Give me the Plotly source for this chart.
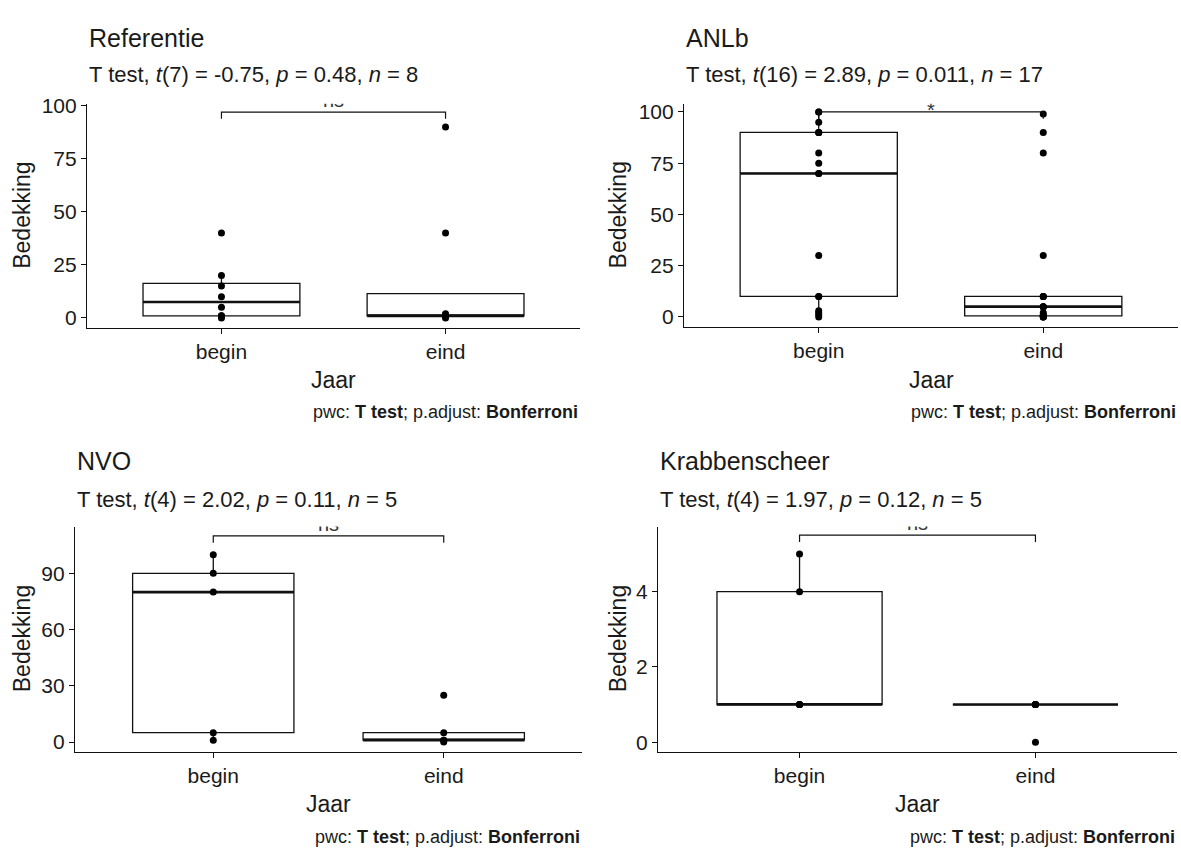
import numpy as np
import plotly.graph_objects as go

W, H = 1181, 849

# ---------------- data ----------------
categories = ["begin", "eind"]
panel_titles = ["Referentie", "ANLb", "NVO", "Krabbenscheer"]
subtitles = [
    "T test, <i>t</i>(7) = -0.75, <i>p</i> = 0.48, <i>n</i> = 8",
    "T test, <i>t</i>(16) = 2.89, <i>p</i> = 0.011, <i>n</i> = 17",
    "T test, <i>t</i>(4) = 2.02, <i>p</i> = 0.11, <i>n</i> = 5",
    "T test, <i>t</i>(4) = 1.97, <i>p</i> = 0.12, <i>n</i> = 5",
]
referentie_begin = [0, 1, 1, 5, 10, 15, 20, 40]
referentie_eind = [0, 1, 1, 1, 1, 2, 40, 90]
anlb_begin = [0, 1, 2, 3, 10, 10, 30, 70, 70, 75, 80, 90, 90, 90, 95, 100, 100]
anlb_eind = [0, 0, 0, 0.5, 0.5, 1, 2, 5, 5, 5, 10, 10, 10, 30, 80, 90, 99]
nvo_begin = [1, 5, 80, 90, 100]
nvo_eind = [0, 1, 1, 5, 25]
krabbenscheer_begin = [1, 1, 1, 4, 5]
krabbenscheer_eind = [0, 1, 1, 1, 1]
signif_labels = ["ns", "*", "ns", "ns"]
bracket_y = [97, 100, 110, 5.5]
y_tick_values = [[0, 25, 50, 75, 100], [0, 25, 50, 75, 100], [0, 30, 60, 90], [0, 2, 4]]
x_title = "Jaar"
y_title = "Bedekking"
caption = "pwc: <b>T test</b>; p.adjust: <b>Bonferroni</b>"

panel_data = [
    (referentie_begin, referentie_eind),
    (anlb_begin, anlb_eind),
    (nvo_begin, nvo_eind),
    (krabbenscheer_begin, krabbenscheer_eind),
]

# ---------------- layout (pixels) ----------------
panels_px = [
    (87, 580, 95, 322),
    (684, 1178, 95, 321.3),
    (75, 582, 523.3, 751.7),
    (658, 1177, 523.3, 751.7),
]
y_ranges = [[-4.65, 100.9], [-5.0, 104.0], [-5.3, 115.0], [-0.26, 5.73]]
x_range = [-0.6, 1.6]
title_y = [28, 28, 457, 457]
subtitle_y = [65, 65, 496, 496]
xtitle_y = [375, 375, 804, 804]
caption_y = [407, 407, 838, 838]
ytitle_x = [22, 618, 22, 618]
signif_pos = ["top center", "middle center", "top center", "top center"]

FONT = "Liberation Sans, Arial, sans-serif"
TXT = "#1a1a1a"


def px_x(x):
    return x / W


def px_y(y):
    return 1 - y / H


fig = go.Figure()
layout_axes = {}
annotations = []

for i, (vals_b, vals_e) in enumerate(panel_data):
    n = i + 1
    xa = "x" if n == 1 else f"x{n}"
    ya = "y" if n == 1 else f"y{n}"
    l, r, t, b = panels_px[i]
    for pos, vals in enumerate([vals_b, vals_e]):
        v = np.array(vals, dtype=float)
        q1, med, q3 = np.percentile(v, [25, 50, 75])
        iqr = q3 - q1
        lf = v[v >= q1 - 1.5 * iqr].min()
        uf = v[v <= q3 + 1.5 * iqr].max()
        fig.add_trace(go.Box(
            x=[pos], q1=[q1], median=[med], q3=[q3],
            lowerfence=[lf], upperfence=[uf],
            width=0.7, whiskerwidth=0, boxpoints=False,
            fillcolor="white", line=dict(color="#111111", width=1.3),
            xaxis=xa, yaxis=ya, showlegend=False, hoverinfo="skip",
        ))
        fig.add_trace(go.Scatter(
            x=[pos - 0.35, pos + 0.35], y=[med, med], mode="lines",
            line=dict(color="#111111", width=2.6),
            xaxis=xa, yaxis=ya, showlegend=False, hoverinfo="skip",
        ))
        fig.add_trace(go.Scatter(
            x=[pos] * len(vals), y=vals, mode="markers",
            marker=dict(color="black", size=7),
            xaxis=xa, yaxis=ya, showlegend=False, hoverinfo="skip",
        ))
    # significance bracket
    yr = y_ranges[i]
    tip = 0.03 * (yr[1] - yr[0])
    by = bracket_y[i]
    fig.add_trace(go.Scatter(
        x=[0, 0, 1, 1], y=[by - tip, by, by, by - tip], mode="lines",
        line=dict(color="#111111", width=1.2),
        xaxis=xa, yaxis=ya, showlegend=False, hoverinfo="skip",
    ))
    fig.add_trace(go.Scatter(
        x=[0.5], y=[by], mode="text", text=[signif_labels[i]],
        textposition=signif_pos[i], cliponaxis=True,
        textfont=dict(family=FONT, size=20, color="#333333"),
        xaxis=xa, yaxis=ya, showlegend=False, hoverinfo="skip",
    ))

    axis_common = dict(
        showline=True, linecolor="#111111", linewidth=1.2,
        ticks="outside", ticklen=5, tickcolor="#111111", tickwidth=1.2,
        showgrid=False, zeroline=False,
        tickfont=dict(family=FONT, size=21, color=TXT),
    )
    layout_axes[f"xaxis{'' if n == 1 else n}"] = dict(
        axis_common, domain=[px_x(l), px_x(r)], range=x_range,
        tickvals=[0, 1], ticktext=categories, anchor=ya,
    )
    layout_axes[f"yaxis{'' if n == 1 else n}"] = dict(
        axis_common, domain=[px_y(b), px_y(t)], range=yr,
        tickvals=y_tick_values[i], anchor=xa,
    )

    annotations += [
        dict(text=panel_titles[i], x=px_x(l), y=px_y(title_y[i]), xref="paper", yref="paper",
             xanchor="left", yanchor="middle", showarrow=False,
             font=dict(family=FONT, size=25, color=TXT)),
        dict(text=subtitles[i], x=px_x(l), y=px_y(subtitle_y[i]), xref="paper", yref="paper",
             xanchor="left", yanchor="middle", showarrow=False,
             font=dict(family=FONT, size=22, color=TXT)),
        dict(text=x_title, x=px_x((l + r) / 2), y=px_y(xtitle_y[i]), xref="paper", yref="paper",
             xanchor="center", yanchor="middle", showarrow=False,
             font=dict(family=FONT, size=23, color=TXT)),
        dict(text=caption, x=px_x(r), y=px_y(caption_y[i]), xref="paper", yref="paper",
             xanchor="right", yanchor="middle", showarrow=False,
             font=dict(family=FONT, size=18, color=TXT)),
        dict(text=y_title, x=px_x(ytitle_x[i]), y=px_y((t + b) / 2), xref="paper", yref="paper",
             xanchor="center", yanchor="middle", showarrow=False, textangle=-90,
             font=dict(family=FONT, size=23, color=TXT)),
    ]

fig.update_layout(
    width=W, height=H, margin=dict(l=0, r=0, t=0, b=0),
    paper_bgcolor="white", plot_bgcolor="white",
    showlegend=False, annotations=annotations, **layout_axes,
)

fig.write_html("out.html")
